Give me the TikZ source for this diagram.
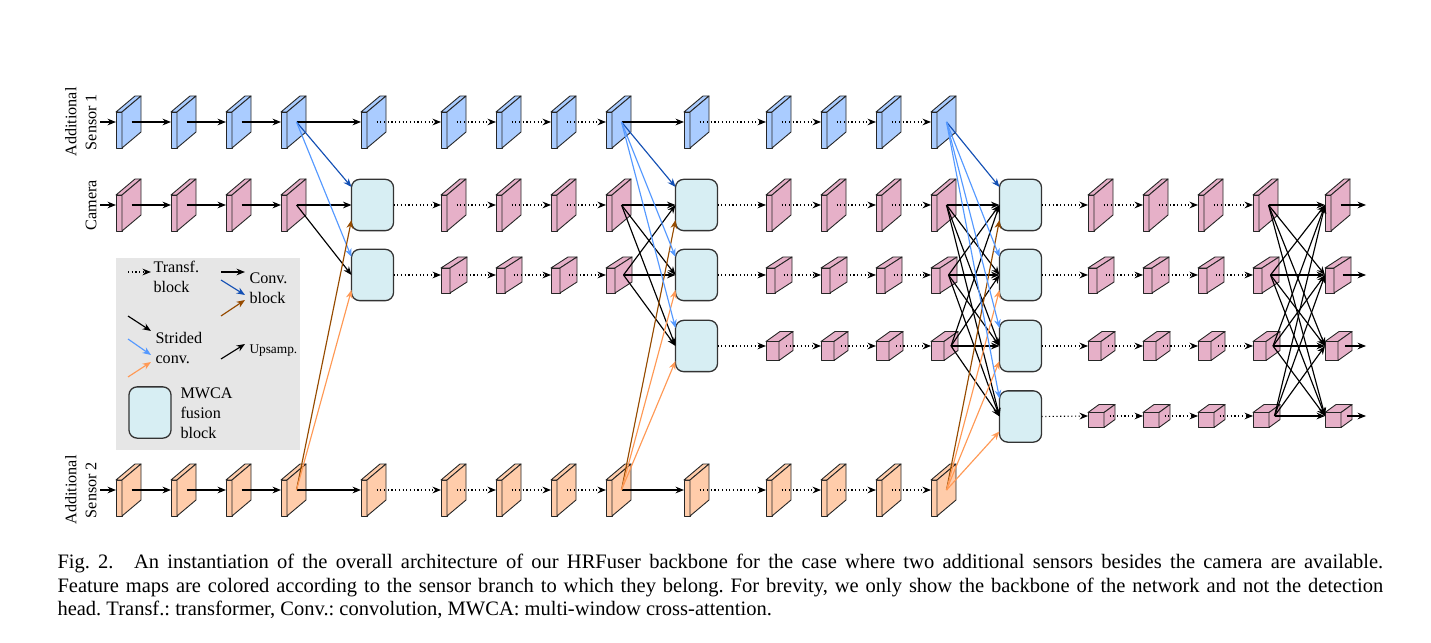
\documentclass[tikz,border=0pt]{standalone}
\usepackage{fontspec}
\setmainfont{Liberation Serif}
\usetikzlibrary{calc,arrows.meta}

\definecolor{senA}{HTML}{AACCFF}
\definecolor{cam}{HTML}{E6B0C8}
\definecolor{senB}{HTML}{FFCCAA}
\definecolor{fuse}{HTML}{D7EEF3}
\definecolor{convA}{HTML}{1450B4}
\definecolor{strA}{HTML}{5599FF}
\definecolor{convB}{HTML}{964B00}
\definecolor{strB}{HTML}{FF9955}
\definecolor{legbg}{HTML}{E6E6E6}

\tikzset{
  map/.style={draw=black!85, line width=0.35pt, line join=round},
  conv/.style={-{Stealth[length=3.3pt,width=2.6pt]}, line width=0.45pt},
  trf/.style={conv, densely dotted},
  fuseblk/.style={draw=black!80, fill=fuse, rounded corners=3.2pt, minimum width=16.4pt,
    minimum height=20pt, inner sep=0pt, outer sep=0pt, line width=0.5pt},
  lbl/.style={font=\fontsize{6.3}{7.8}\selectfont, align=center, rotate=90, anchor=south, inner sep=0pt},
  leg/.style={font=\fontsize{6.3}{7.8}\selectfont, align=left, anchor=west, inner sep=0pt},
  caption/.style={font=\fontsize{8}{9.17}\selectfont\frenchspacing, text width=517pt, align=justify, inner sep=0pt},
}

% size of the feature maps of one row: width, height, depth x, depth y
\newcommand{\setrow}[4]{\def\mw{#1}\def\mh{#2}\def\mdx{#3}\def\mdy{#4}}
% feature map: name, front left x, row y, fill
\newcommand{\fmap}[4]{%
  \pgfmathsetmacro\mtop{#3+\mdy/2-\mh/2}%
  \pgfmathsetmacro\mout{#2+\mw+\mdx/2}%
  \filldraw[map, fill=#4] (#2,\mtop) rectangle ++(\mw,\mh);
  \filldraw[map, fill=#4] (#2,\mtop) -- ++(\mdx,-\mdy) -- ++(\mw,0) -- ++(-\mdx,\mdy) -- cycle;
  \filldraw[map, fill=#4] (#2+\mw,\mtop) -- ++(\mdx,-\mdy) -- ++(0,\mh) -- ++(-\mdx,\mdy) -- cycle;
  \coordinate (#1-i) at (#2,#3);
  \coordinate (#1-o) at (\mout,#3);
}

\begin{document}
\begin{tikzpicture}[x=0.39pt, y=-0.39pt]
    \useasboundingbox (0,0) rectangle (1431,643);

    % legend
    \fill[legbg] (116,258) rectangle (300,450);

    % sensor branches and full resolution camera branch
    \setrow{6}{36}{19}{16}
    \foreach \x [count=\k] in {116,171,226,281,361,441,496,551,606,684,766,821,876,931} {
        \fmap{u\k}{\x}{122}{senA}
        \fmap{l\k}{\x}{490}{senB}
    }
    \foreach \x [count=\k] in {116,171,226,281,441,496,551,606,766,821,876,931,1088,1143,1198,1253,1325}
        {\fmap{c\k}{\x}{205}{cam}}
    \setrow{9}{25}{17}{11}
    \foreach \x [count=\k from 5] in {441,496,551,606,766,821,876,931,1088,1143,1198,1253,1325}
        {\fmap{d\k}{\x}{275}{cam}}
    \setrow{13}{19}{14}{10}
    \foreach \x [count=\k from 9] in {766,821,876,931,1088,1143,1198,1253,1325}
        {\fmap{e\k}{\x}{346}{cam}}
    \setrow{16}{15}{11}{8}
    \foreach \x [count=\k from 13] in {1088,1143,1198,1253,1325}
        {\fmap{f\k}{\x}{416}{cam}}

    % MWCA fusion blocks
    \node[fuseblk] (A1) at (372.5,205) {};
    \node[fuseblk] (A2) at (372.5,275) {};
    \foreach \k/\y in {1/205,2/275,3/346}
        \node[fuseblk] (B\k) at (696.5,\y) {};
    \foreach \k/\y in {1/205,2/275,3/346,4/416.5}
        \node[fuseblk] (C\k) at (1020.5,\y) {};

    % labels
    \node[lbl] (lsA) at (97,122) {Additional\\Sensor 1};
    \node[lbl] (lcam) at (97,205) {Camera};
    \node[lbl] (lsB) at (97,490) {Additional\\Sensor 2};

    % inputs
    \coordinate (uin) at (100,122);
    \coordinate (cin) at (100,205);
    \coordinate (lin) at (100,490);
    \draw[conv] (uin) -- (u1-i);
    \draw[conv] (cin) -- (c1-i);
    \draw[conv] (lin) -- (l1-i);

    % sensor branches
    \foreach \a/\b in {1/2,2/3,3/4,4/5,9/10} {
        \draw[conv] (u\a-o) -- (u\b-i);
        \draw[conv] (l\a-o) -- (l\b-i);
    }
    \foreach \a/\b in {5/6,6/7,7/8,8/9,10/11,11/12,12/13,13/14} {
        \draw[trf] (u\a-o) -- (u\b-i);
        \draw[trf] (l\a-o) -- (l\b-i);
    }

    % camera branch
    \foreach \a/\b in {1/2,2/3,3/4}
        \draw[conv] (c\a-o) -- (c\b-i);
    \foreach \a/\b in {5/6,6/7,7/8,9/10,10/11,11/12,13/14,14/15,15/16}
        \draw[trf] (c\a-o) -- (c\b-i);
    \foreach \a/\b in {5/6,6/7,7/8,9/10,10/11,11/12,13/14,14/15,15/16}
        \draw[trf] (d\a-o) -- (d\b-i);
    \foreach \a/\b in {9/10,10/11,11/12,13/14,14/15,15/16}
        \draw[trf] (e\a-o) -- (e\b-i);
    \foreach \a/\b in {13/14,14/15,15/16}
        \draw[trf] (f\a-o) -- (f\b-i);

    % fusion A
    \foreach \k in {1,2}
        \draw[conv] (c4-o) -- (A\k.west);
    \draw[conv, convA] (u4-o) -- ($(A1.west)+(0,-18)$);
    \draw[conv, strA] (u4-o) -- ($(A2.west)+(0,-18)$);
    \draw[conv, convB] (l4-o) -- ($(A1.west)+(0,15)$);
    \draw[conv, strB] (l4-o) -- ($(A2.west)+(0,15)$);
    \draw[trf] (A1.east) -- (c5-i);
    \draw[trf] (A2.east) -- (d5-i);

    % fusion B
    \foreach \r in {c,d}
        \foreach \k in {1,2,3}
            \draw[conv] (\r8-o) -- (B\k.west);
    \draw[conv, convA] (u9-o) -- ($(B1.west)+(0,-18)$);
    \draw[conv, convB] (l9-o) -- ($(B1.west)+(0,15)$);
    \foreach \k in {2,3} {
        \draw[conv, strA] (u9-o) -- ($(B\k.west)+(0,-18)$);
        \draw[conv, strB] (l9-o) -- ($(B\k.west)+(0,15)$);
    }
    \draw[trf] (B1.east) -- (c9-i);
    \draw[trf] (B2.east) -- (d9-i);
    \draw[trf] (B3.east) -- (e9-i);

    % fusion C
    \foreach \r in {c,d,e}
        \foreach \k in {1,2,3,4}
            \draw[conv] (\r12-o) -- (C\k.west);
    \draw[conv, convA] (u14-o) -- ($(C1.west)+(0,-18)$);
    \draw[conv, convB] (l14-o) -- ($(C1.west)+(0,15)$);
    \foreach \k in {2,3,4} {
        \draw[conv, strA] (u14-o) -- ($(C\k.west)+(0,-18)$);
        \draw[conv, strB] (l14-o) -- ($(C\k.west)+(0,15)$);
    }
    \draw[trf] (C1.east) -- (c13-i);
    \draw[trf] (C2.east) -- (d13-i);
    \draw[trf] (C3.east) -- (e13-i);
    \draw[trf] (C4.east) -- (f13-i);

    % last exchange and outputs
    \foreach \r in {c,d,e,f}
        \foreach \s in {c,d,e,f}
            \draw[conv] (\r16-o) -- (\s17-i);
    \foreach \r/\y in {c/205,d/275,e/346,f/416} {
        \coordinate (\r out) at (1366,\y);
        \draw[conv] (\r17-o) -- (\r out);
    }

    % legend entries
    \coordinate (lg1) at (128,272); \coordinate (lg2) at (151,272);
    \coordinate (lg3) at (221,272); \coordinate (lg4) at (245,272);
    \coordinate (lg5) at (221,280); \coordinate (lg6) at (245,295);
    \coordinate (lg7) at (221,316); \coordinate (lg8) at (245,300);
    \coordinate (lg9) at (128,316); \coordinate (lg10) at (151,331);
    \coordinate (lg11) at (128,339); \coordinate (lg12) at (151,355);
    \coordinate (lg13) at (128,377); \coordinate (lg14) at (151,362);
    \coordinate (lg15) at (221,359); \coordinate (lg16) at (245,344);
    \draw[trf] (lg1) -- (lg2);
    \draw[conv] (lg3) -- (lg4);
    \draw[conv, convA] (lg5) -- (lg6);
    \draw[conv, convB] (lg7) -- (lg8);
    \draw[conv] (lg9) -- (lg10);
    \draw[conv, strA] (lg11) -- (lg12);
    \draw[conv, strB] (lg13) -- (lg14);
    \draw[conv] (lg15) -- (lg16);
    \node[leg] (tTr) at (153,277) {Transf.\\block};
    \node[leg] (tCv) at (249,288) {Conv.\\block};
    \node[leg] (tSt) at (155,348) {Strided\\conv.};
    \node[leg, font=\fontsize{5.2}{6.5}\selectfont] (tUp) at (249,351) {Upsamp.};
    \node[fuseblk] (lgF) at (150,412.5) {};
    \node[leg] (tMw) at (180,413) {MWCA\\fusion\\block};

    % caption
    \node[caption, anchor=north west] (cap) at (57,554) {Fig.~2.\quad An instantiation of the overall architecture of our HRFuser backbone for the case where two additional sensors besides the camera are available.\linebreak Feature maps are colored according to the sensor branch to which they belong. For brevity, we only show the backbone of the network and not the detection\linebreak head. Transf.: transformer, Conv.: convolution, MWCA: multi-window cross-attention.};
\end{tikzpicture}
\end{document}
